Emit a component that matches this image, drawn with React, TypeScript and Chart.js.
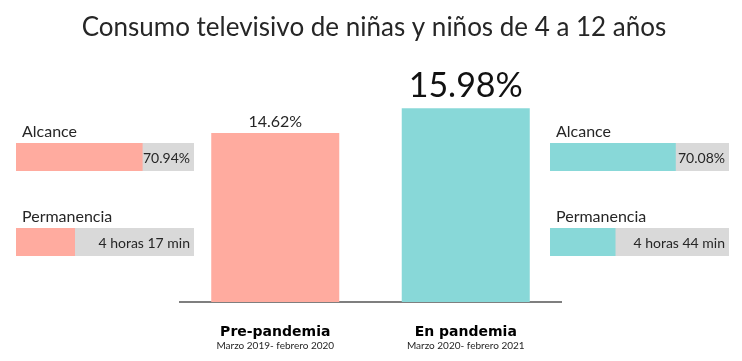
import React, { useEffect, useRef } from 'react';
import { Chart, registerables } from 'chart.js';

Chart.register(...registerables);

const TITLE = 'Consumo televisivo de niñas y niños de 4 a 12 años';
const CATEGORIES = ['Pre-pandemia', 'En pandemia'];
const PERIODS = ['Marzo 2019- febrero 2020', 'Marzo 2020- febrero 2021'];
const CONSUMO = [14.62, 15.98];
const CONSUMO_LABELS = ['14.62%', '15.98%'];
const ALCANCE = [70.94, 70.08];
const ALCANCE_LABELS = ['70.94%', '70.08%'];
const PERMANENCIA_MIN = [257, 284];
const PERMANENCIA_LABELS = ['4 horas 17 min', '4 horas 44 min'];
const ALCANCE_MAX = 100;
const PERMANENCIA_MAX = 780;
const COLORS = ['#FFAB9F', '#88D8D8'];
const TRACK = '#D9D9D9';
const TEXT = '#262626';
const GOTHIC = '"Lato", "DejaVu Sans", sans-serif';

function MainChart() {
  const ref = useRef<HTMLCanvasElement>(null);
  useEffect(() => {
    const labelsPlugin = {
      id: 'mainLabels',
      afterDraw(chart: any) {
        const ctx = chart.ctx;
        ctx.save();
        ctx.fillStyle = TEXT;
        ctx.textAlign = 'center';
        ctx.textBaseline = 'alphabetic';
        ctx.font = '26px "Lato", "Liberation Sans", sans-serif';
        ctx.fillText(TITLE, 374, 36);
        const meta = chart.getDatasetMeta(0);
        meta.data.forEach((bar: any, i: number) => {
          ctx.fillStyle = i === 1 ? '#111111' : TEXT;
          ctx.font = i === 1 ? `34px ${GOTHIC}` : `16px ${GOTHIC}`;
          ctx.fillText(CONSUMO_LABELS[i], bar.x, i === 1 ? bar.y - 11 : bar.y - 6);
          ctx.fillStyle = '#000000';
          ctx.font = 'bold 14px "DejaVu Sans", sans-serif';
          ctx.fillText(CATEGORIES[i], bar.x, 336);
          ctx.fillStyle = TEXT;
          ctx.font = `10px ${GOTHIC}`;
          ctx.fillText(PERIODS[i], bar.x, 349);
        });
        ctx.restore();
      },
    };
    const chart = new Chart(ref.current!, {
      type: 'bar',
      data: {
        labels: CATEGORIES,
        datasets: [
          {
            data: CONSUMO,
            backgroundColor: COLORS,
            borderWidth: 0,
            barPercentage: 0.672,
            categoryPercentage: 1,
          },
        ],
      },
      options: {
        responsive: false,
        animation: false,
        layout: { padding: { top: 60, bottom: 59, left: 180, right: 181 } },
        plugins: { legend: { display: false }, title: { display: false }, tooltip: { enabled: false } },
        scales: {
          x: {
            grid: { display: false, drawTicks: false },
            ticks: { display: false },
            border: { display: true, color: '#7F7F7F', width: 2 },
          },
          y: { display: false, min: 5.35, max: 18.62 },
        },
      },
      plugins: [labelsPlugin],
    });
    return () => chart.destroy();
  }, []);
  return <canvas ref={ref} width={742} height={361} style={{ position: 'absolute', left: 0, top: 0 }} />;
}

function SideBar(props: {
  left: number;
  top: number;
  width: number;
  label: string;
  value: number;
  max: number;
  valueLabel: string;
  color: string;
}) {
  const ref = useRef<HTMLCanvasElement>(null);
  const { left, top, width, label, value, max, valueLabel, color } = props;
  useEffect(() => {
    const plugin = {
      id: 'sideDeco',
      beforeDatasetsDraw(chart: any) {
        const { ctx, chartArea } = chart;
        ctx.save();
        ctx.fillStyle = TRACK;
        ctx.fillRect(chartArea.left, chartArea.top, chartArea.right - chartArea.left, chartArea.bottom - chartArea.top);
        ctx.restore();
      },
      afterDraw(chart: any) {
        const { ctx, chartArea } = chart;
        ctx.save();
        ctx.fillStyle = TEXT;
        ctx.font = `16px ${GOTHIC}`;
        ctx.textAlign = 'left';
        ctx.textBaseline = 'alphabetic';
        ctx.fillText(label, chartArea.left + 6, chartArea.top - 6);
        ctx.font = `14px ${GOTHIC}`;
        ctx.textAlign = 'right';
        ctx.textBaseline = 'middle';
        ctx.fillText(valueLabel, chartArea.right - 4, (chartArea.top + chartArea.bottom) / 2 + 1);
        ctx.restore();
      },
    };
    const chart = new Chart(ref.current!, {
      type: 'bar',
      data: {
        labels: [label],
        datasets: [
          { data: [value], backgroundColor: color, borderWidth: 0, barPercentage: 1, categoryPercentage: 1 },
        ],
      },
      options: {
        indexAxis: 'y',
        responsive: false,
        animation: false,
        layout: { padding: { top: 22, left: 0, right: 0, bottom: 0 } },
        plugins: { legend: { display: false }, title: { display: false }, tooltip: { enabled: false } },
        scales: {
          x: { display: false, min: 0, max },
          y: { display: false },
        },
      },
      plugins: [plugin],
    });
    return () => chart.destroy();
  }, [left, top, width, label, value, max, valueLabel, color]);
  return <canvas ref={ref} width={width} height={50} style={{ position: 'absolute', left, top }} />;
}

export default function App() {
  return (
    <div style={{ position: 'fixed', left: 0, top: 0, width: 742, height: 361, background: '#fff', overflow: 'hidden' }}>
      <MainChart />
      <SideBar left={16} top={121} width={178} label="Alcance" value={ALCANCE[0]} max={ALCANCE_MAX} valueLabel={ALCANCE_LABELS[0]} color={COLORS[0]} />
      <SideBar left={16} top={206} width={178} label="Permanencia" value={PERMANENCIA_MIN[0]} max={PERMANENCIA_MAX} valueLabel={PERMANENCIA_LABELS[0]} color={COLORS[0]} />
      <SideBar left={550} top={121} width={179} label="Alcance" value={ALCANCE[1]} max={ALCANCE_MAX} valueLabel={ALCANCE_LABELS[1]} color={COLORS[1]} />
      <SideBar left={550} top={206} width={179} label="Permanencia" value={PERMANENCIA_MIN[1]} max={PERMANENCIA_MAX} valueLabel={PERMANENCIA_LABELS[1]} color={COLORS[1]} />
    </div>
  );
}
